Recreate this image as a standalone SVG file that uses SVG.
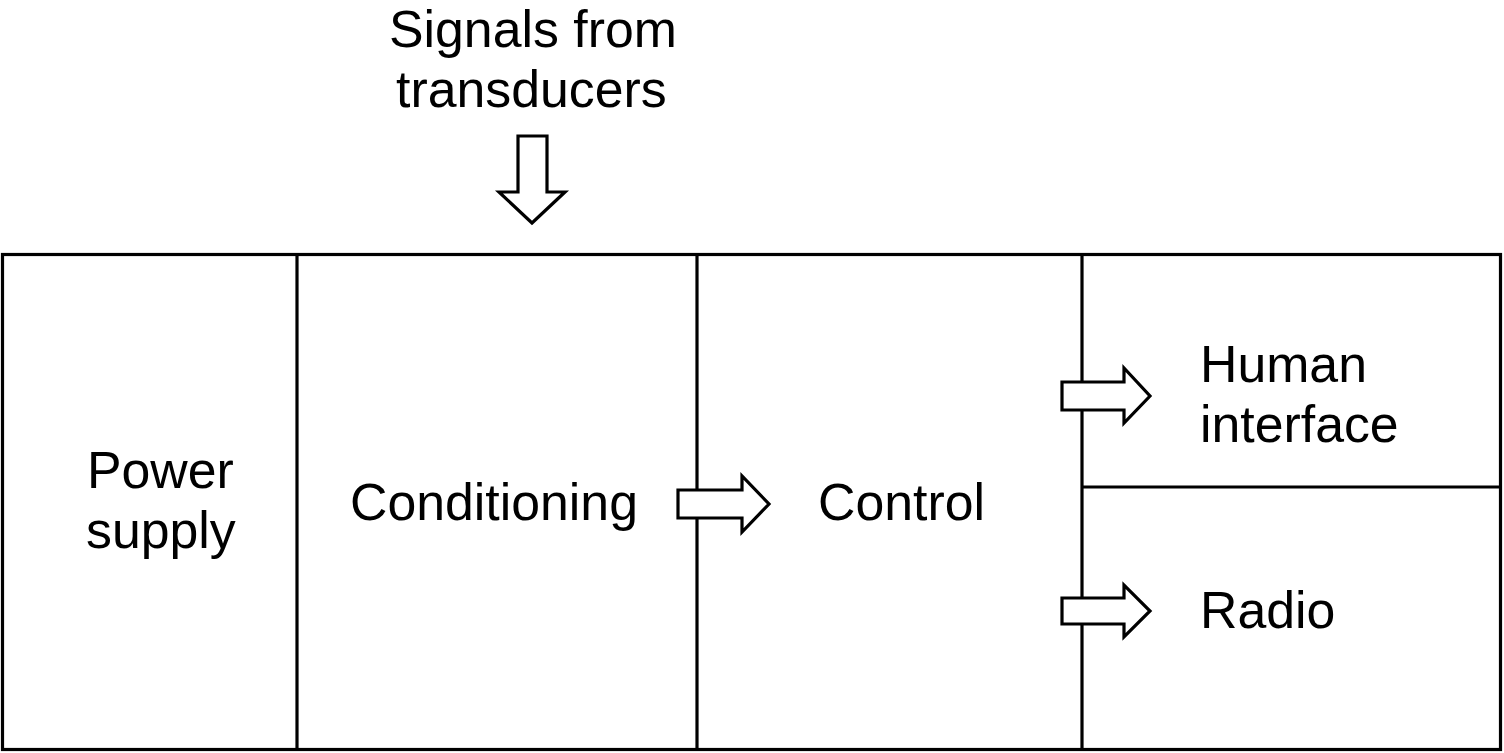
<svg xmlns="http://www.w3.org/2000/svg" width="1504" height="753" viewBox="0 0 1504 753">
<style>
.ln{fill:none;stroke:#000;stroke-width:3.2}
.ar{fill:#fff;stroke:#000;stroke-width:3.2;stroke-linejoin:miter}
text{font-family:"Liberation Sans",Arial,sans-serif;font-size:51.8px;fill:#000}
</style>
<rect width="1504" height="753" fill="#fff"/>
<g id="frame">
<rect class="ln" x="2.5" y="254.5" width="1498" height="495"/>
</g>
<g id="power-supply">
<text x="87" y="488">Power</text>
<text x="86" y="548">supply</text>
</g>
<g id="conditioning">
<line class="ln" x1="297" y1="254" x2="297" y2="750"/>
<text x="350" y="520">Conditioning</text>
</g>
<g id="control">
<line class="ln" x1="697" y1="254" x2="697" y2="750"/>
<text x="818" y="520">Control</text>
</g>
<g id="human-interface">
<line class="ln" x1="1082" y1="254" x2="1082" y2="750"/>
<line class="ln" x1="1082" y1="487" x2="1501" y2="487"/>
<text x="1200" y="382">Human</text>
<text x="1200" y="442">interface</text>
</g>
<g id="radio">
<text x="1200" y="628">Radio</text>
</g>
<g id="signals">
<text x="389" y="47">Signals from</text>
<text x="396" y="107">transducers</text>
</g>
<g id="connectors">
<polygon class="ar" points="518,136 547,136 547,192 565,192 532,223 499,192 518,192"/>
<polygon class="ar" points="678,490 742,490 742,476 769,504 742,532 742,518 678,518"/>
<polygon class="ar" points="1062,382 1124,382 1124,368 1150,396 1124,423 1124,410 1062,410"/>
<polygon class="ar" points="1062,598 1124,598 1124,585 1150,611 1124,637 1124,624 1062,624"/>
</g>
</svg>
